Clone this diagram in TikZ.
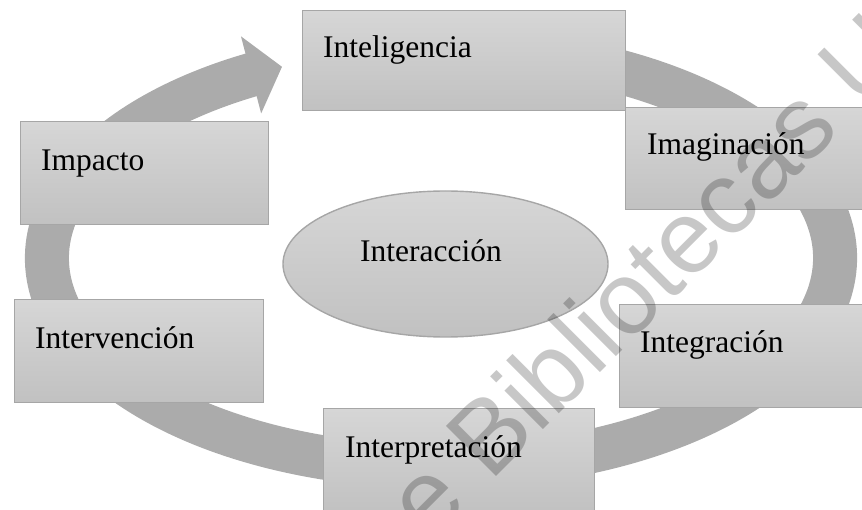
\documentclass[tikz,border=0pt]{standalone}
\usepackage{fontspec}
\setmainfont{Liberation Serif}
\newfontfamily\wmfont{Liberation Sans}
\usetikzlibrary{shapes.geometric,arrows.meta,bending}
\definecolor{ringgray}{HTML}{ABABAB}
\definecolor{boxtop}{HTML}{D6D6D6}
\definecolor{boxbot}{HTML}{C1C1C1}
\definecolor{boxline}{HTML}{A6A6A6}
\tikzset{
 stagebox/.style={draw=boxline, line width=1.4pt, top color=boxtop, bottom color=boxbot, rectangle, inner sep=0pt, anchor=north west},
 lbl/.style={font=\fontsize{31.5}{36}\selectfont, anchor=base west, inner sep=0pt, text=black},
 ringband/.style={draw=ringgray, line width=44pt},
 wm/.style={font=\wmfont\fontsize{103}{103}\selectfont, text=black, text opacity=0.22, rotate=45, inner sep=0pt}
}
\begin{document}
\begin{tikzpicture}[x=1pt,y=-1pt]
\useasboundingbox (0,0) rectangle (862,510);
\begin{scope}
\clip (0,0) rectangle (862,510);
\coordinate (c) at (441,258);
\draw[ringband, -{Triangle[width=78pt,length=32pt]}] (c) ++(75:394pt and 209pt) arc[start angle=75, end angle=-246.2, x radius=394pt, y radius=209pt];
\node[stagebox, minimum width=323pt, minimum height=100pt] (intel) at (302,10) {};
\node[stagebox, minimum width=248pt, minimum height=103pt] (impact) at (20,121) {};
\node[stagebox, minimum width=260pt, minimum height=102pt] (imag) at (625,107) {};
\node[stagebox, minimum width=249pt, minimum height=103pt] (interv) at (14,299) {};
\node[stagebox, minimum width=271pt, minimum height=105pt] (interp) at (323,408) {};
\node[stagebox, minimum width=260pt, minimum height=103pt] (integ) at (619,304) {};
\node[ellipse, draw=boxline, line width=1.4pt, top color=boxtop, bottom color=boxbot, minimum width=325pt, minimum height=146pt, inner sep=0pt] (inter) at (445.5,264) {};
\node[lbl] (intelT) at (323,58) {Inteligencia};
\node[lbl] (impactT) at (41,171) {Impacto};
\node[lbl] (imagT) at (647,155) {Imaginación};
\node[lbl] (intervT) at (35,349) {Intervención};
\node[lbl] (interpT) at (345,457) {Interpretación};
\node[lbl] (integT) at (640,353) {Integración};
\node[lbl] (interT) at (360,262) {Interacción};
\node[wm, anchor=base west] (wmark) at (429.3,543.7) {e Bibliotecas U};
\end{scope}
\end{tikzpicture}
\end{document}
